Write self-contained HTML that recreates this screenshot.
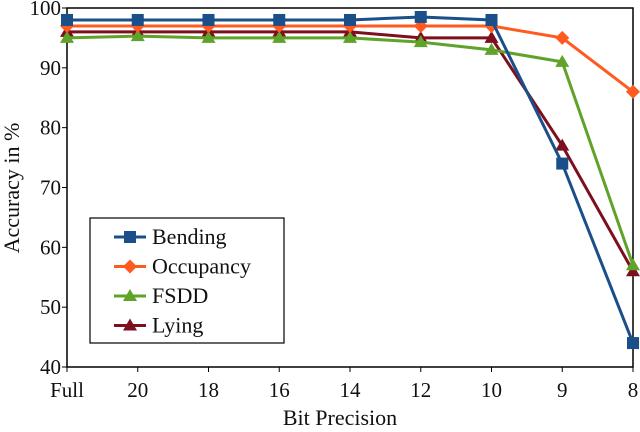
<!DOCTYPE html>
<html><head><meta charset="utf-8"><style>
body{margin:0;background:#fff}
svg text{font-family:"Liberation Serif","Times New Roman",serif;fill:#111}
</style></head><body>
<svg id="c" width="640" height="427">
<rect x="67" y="8" width="566" height="359" fill="none" stroke="#000" stroke-width="1.5"/>
<g id="axes"></g><g id="series"></g>
<text x="340" y="425" font-size="22" text-anchor="middle">Bit Precision</text>
<text transform="translate(19,188) rotate(-90)" font-size="22" text-anchor="middle">Accuracy in %</text>
<rect x="90" y="218" width="194" height="125" fill="#fff" stroke="#000" stroke-width="1.2"/>
<g id="legend"></g>
</svg>
<script>
const categories=["Full","20","18","16","14","12","10","9","8"];
const yTicks=[40,50,60,70,80,90,100];
const bending=[98,98,98,98,98,98.5,98,74,44];
const occupancy=[97,97,97,97,97,97,97,95,86];
const fsdd=[95,95.3,95,95,95,94.3,93,91,57];
const lying=[96,96,96,96,96,95,95,77,56];
const seriesNames=["Bending","Occupancy","FSDD","Lying"];
const NS="http://www.w3.org/2000/svg";
const X0=67,X1=633,Y0=367,Y1=8;
const x=i=>X0+i*(X1-X0)/(categories.length-1);
const y=v=>Y0-(v-40)/(60)*(Y0-Y1);
function mk(t,a,p){const e=document.createElementNS(NS,t);for(const k in a)e.setAttribute(k,a[k]);p.appendChild(e);return e;}
const ax=document.getElementById('axes');
yTicks.forEach(v=>{
 const l=mk('line',{x1:X0-5,x2:X0,y1:y(v),y2:y(v),stroke:'#000'},ax);
 
 
 const t=mk('text',{x:X0-6,y:y(v)+7,'font-size':21,'text-anchor':'end'},ax);t.textContent=v;
 
 
});
categories.forEach((c,i)=>{
 const l=mk('line',{x1:x(i),x2:x(i),y1:Y0,y2:Y0+5,stroke:'#000'},ax);
 
 
 const t=mk('text',{x:x(i),y:397,'font-size':21,'text-anchor':'middle'},ax);t.textContent=c;
 
 
});
const colors=["#1a4f8a","#ff5a1f","#5fa32a","#7d0f1e"];
const shapes=["square","diamond","tri","tri"];
function marker(g,s,cx,cy,col){
 if(s==='square')return mk('rect',{x:cx-6,y:cy-6,width:12,height:12,fill:col},g);
 if(s==='diamond')return mk('polygon',{points:`${cx},${cy-7} ${cx+7},${cy} ${cx},${cy+7} ${cx-7},${cy}`,fill:col},g);
 return mk('polygon',{points:`${cx},${cy-7} ${cx+7},${cy+5} ${cx-7},${cy+5}`,fill:col},g);
}
const sg=document.getElementById('series');
const data=[bending,occupancy,fsdd,lying];
[3,2,1,0].forEach(k=>{
 const g=mk('g',{},sg);
 
 
 const p=mk('polyline',{points:data[k].map((v,i)=>x(i)+','+y(v)).join(' '),fill:'none',stroke:colors[k],'stroke-width':3},g);
 
 
 data[k].forEach((v,i)=>{const m=marker(g,shapes[k],x(i),y(v),colors[k]);
  
  });
});
const lg=document.getElementById('legend');
seriesNames.forEach((n,k)=>{
 const cy=237+k*29.5;
 const g=mk('g',{},lg);
 
 
 mk('line',{x1:114,x2:146,y1:cy,y2:cy,stroke:colors[k],'stroke-width':3},g);
 marker(g,shapes[k],130,cy,colors[k]);
 const t=mk('text',{x:152,y:cy+7,'font-size':22},g);t.textContent=n;
});
</script>
</body></html>
